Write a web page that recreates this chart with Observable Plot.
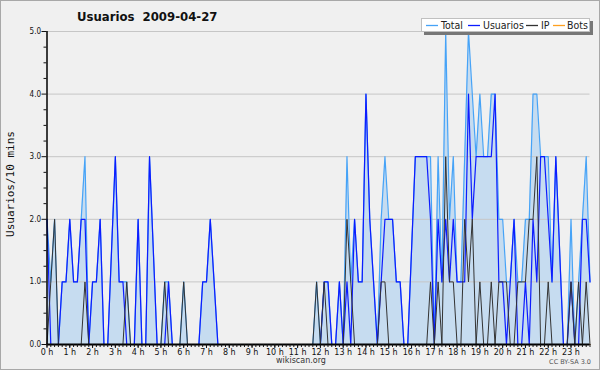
<!DOCTYPE html>
<html>
<head>
<meta charset="utf-8">
<script src="https://cdn.jsdelivr.net/npm/d3@7"></script>
<script src="https://cdn.jsdelivr.net/npm/@observablehq/plot@0.6"></script>
<style>
html,body{margin:0;padding:0;background:#f0f0f0;}
#wrap{position:relative;width:600px;height:370px;overflow:hidden;background:#f0f0f0;}
#wrap svg{position:absolute;left:0;top:0;display:block;}
#overlay{pointer-events:none;}
</style>
</head>
<body>
<div id="wrap"></div>
<script>
// 10-minute slots, 0 = 00:00 ... 143 = 23:50
const usuarios = [
  2,0,0,0,1,1,2,1,1,2,
  2,0,1,1,2,0,0,1.5,3,1,
  1,0,0,0,2,0,0,3,1.5,0,
  0,0,1,0,0,0,0,0,0,0,
  0,1,1,2,1,0,0,0,0,0,
  0,0,0,0,0,0,0,0,0,0,
  0,0,0,0,0,0,0,0,0,0,
  0,0,0,1,1,0,0,1,0,1,
  0,2,1,1,4,2,1,0,1,2,
  2,2,1,1,0,0,1.5,3,3,3,
  3,2,0,2,1,2,1,2,1,1,
  1,4,2,3,3,3,3,3,4,1,
  1,0,1,2,0,0,1,0,2,1,
  3,3,2,1,3,1.5,0,0,1,0,
  0,2,2,1
];
const ip = [
  0,1,2,0,0,0,0,0,0,0,
  1,0,0,0,0,0,0,0,0,0,
  0,1,0,0,0,0,0,0,0,0,
  0,1,0,0,0,0,1,0,0,0,
  0,0,0,0,0,0,0,0,0,0,
  0,0,0,0,0,0,0,0,0,0,
  0,0,0,0,0,0,0,0,0,0,
  0,1,0,1,0,0,0,0,0,2,
  1,0,0,0,0,0,0,0,1,1,
  0,0,0,0,0,0,0,0,0,0,
  0,1,0,1,0,3,1,1,0,0,
  2,1,2,0,1,0,0,1,0,1,
  1,1,0,0,1,1,1,2,2,3,
  0,0,1,0,0,0,0,0,1,0,
  1,0,1,0
];
const total = [
  2,1,2,0,1,1,2,1,1,2,
  3,0,1,1,2,0,0,1.5,3,1,
  1,1,0,0,2,0,0,3,1.5,0,
  0,1,1,0,0,0,1,0,0,0,
  0,1,1,2,1,0,0,0,0,0,
  0,0,0,0,0,0,0,0,0,0,
  0,0,0,0,0,0,0,0,0,0,
  0,1,0,1,1,0,0,1,0,3,
  1,2,1,1,4,2,1,0,2,3,
  2,2,1,1,0,0,1.5,3,3,3,
  3,3,0,3,1,5,2,3,1,1,
  3,5,4,3,4,3,3,4,4,2,
  2,1,1,2,1,1,2,2,4,4,
  3,3,3,1,3,1.5,0,0,2,0,
  1,2,3,1
];
const bots = [
  0,0,0,0,0,0,0,0,0,0, 0,0,0,0,0,0,0,0,0,0,
  0,0,0,0,0,0,0,0,0,0, 0,0,0,0,0,0,0,0,0,0,
  0,0,0,0,0,0,0,0,0,0, 0,0,0,0,0,0,0,0,0,0,
  0,0,0,0,0,0,0,0,0,0, 0,0,0,0,0,0,0,0,0,0,
  0,0,0,0,0,0,0,0,0,0, 0,0,0,0,0,0,0,0,0,0,
  0,0,0,0,0,0,0,0,0,0, 0,0,0,0,0,0,0,0,0,0,
  0,0,0,0,0,0,0,0,0,0, 0,0,0,0,0,0,0,0,0,0,
  0,0,0,0
];
const hourLabels = ["0 h","1 h","2 h","3 h","4 h","5 h","6 h","7 h","8 h","9 h","10 h","11 h",
  "12 h","13 h","14 h","15 h","16 h","17 h","18 h","19 h","20 h","21 h","22 h","23 h"];
const yMajor = [0,1,2,3,4,5];
const seriesNames = ["Total","Usuarios","IP","Bots"];
const seriesColors = ["#46a3f7","#0c1cff","#333333","#ffa020"];
const titleText = "Usuarios  2009-04-27";
const yLabel = "Usuarios/10 mins";

const rows = usuarios.map((u, i) => ({i, usuarios: u, ip: ip[i], total: total[i], bots: bots[i]}));
const hourTicks = hourLabels.map((_, h) => h * 6);
const minorX = rows.map(d => d.i);
const minorY = d3.range(0, 5.001, 0.25).filter(v => !yMajor.includes(v));

const chart = Plot.plot({
  width: 600, height: 370,
  marginLeft: 46.5, marginRight: 10.5, marginTop: 31, marginBottom: 26,
  style: {background: "transparent", fontFamily: "DejaVu Sans", fontSize: "8px", color: "#111"},
  x: {domain: [0, 143], axis: null},
  y: {domain: [0, 5], axis: null},
  marks: [
    Plot.areaY(rows, {x: "i", y: "total", fill: "#c6dcf0"}),
    Plot.gridY(yMajor.filter(v => v > 0), {stroke: "#c6c6c6", strokeOpacity: 1}),
    Plot.lineY(rows, {x: "i", y: "bots", stroke: seriesColors[3], strokeWidth: 1.2}),
    Plot.lineY(rows, {x: "i", y: "total", stroke: seriesColors[0], strokeWidth: 1.2}),
    Plot.lineY(rows, {x: "i", y: "usuarios", stroke: seriesColors[1], strokeWidth: 1.2}),
    Plot.lineY(rows, {x: "i", y: "ip", stroke: seriesColors[2], strokeWidth: 1}),
    Plot.ruleX([0], {stroke: "#000", strokeWidth: 1.5}),
    Plot.ruleY([0], {stroke: "#000", strokeWidth: 2}),
    Plot.axisY(minorY, {tickSize: 3, tickFormat: () => "", label: null}),
    Plot.axisY(yMajor, {tickSize: 5, tickPadding: 1, tickFormat: d => d.toFixed(1), label: null,
      fontSize: 8, fontFamily: "DejaVu Sans Condensed"}),
    Plot.axisX(minorX, {tickSize: 3, tickFormat: () => "", label: null}),
    Plot.axisX(hourTicks, {tickSize: 4, tickPadding: 1, tickFormat: d => hourLabels[d / 6], label: null, fontSize: 8})
  ]
});
const wrap = document.getElementById("wrap");
wrap.appendChild(chart);

// overlay: border, title, legend, labels
const ns = "http://www.w3.org/2000/svg";
const ov = document.createElementNS(ns, "svg");
ov.setAttribute("id", "overlay");
ov.setAttribute("width", 600); ov.setAttribute("height", 370);
function el(tag, attrs, text) {
  const e = document.createElementNS(ns, tag);
  for (const k in attrs) e.setAttribute(k, attrs[k]);
  if (text != null) e.textContent = text;
  ov.appendChild(e);
  return e;
}
el("rect", {x: 0.5, y: 0.5, width: 599, height: 369, fill: "none", stroke: "#a8a8a8"});
el("text", {x: 77, y: 21, "font-family": "DejaVu Sans Condensed", "font-weight": "bold", "font-size": 13,
  fill: "#111", style: "white-space:pre"}, titleText);
// legend
el("rect", {x: 424, y: 21, width: 169, height: 14, fill: "#777"});
el("rect", {x: 421.5, y: 18.5, width: 168, height: 13, fill: "#fff", stroke: "#c0c0c0"});
const legX = [426, 468, 526, 553];
const legTX = [441, 483, 541, 567];
seriesNames.forEach((n, k) => {
  el("line", {x1: legX[k], x2: legX[k] + 12, y1: 25.5, y2: 25.5, stroke: seriesColors[k], "stroke-width": 1.3});
  el("text", {x: legTX[k], y: 29, "font-family": "DejaVu Sans Condensed", "font-size": 10.5, fill: "#222"}, n);
});
el("text", {x: 14, y: 184, transform: "rotate(-90 14 184)", "text-anchor": "middle",
  "font-family": "DejaVu Sans Mono", "font-size": 11, fill: "#111"}, yLabel);
el("text", {x: 301, y: 363, "text-anchor": "middle", "font-family": "DejaVu Sans", "font-size": 8, fill: "#333"}, "wikiscan.org");
el("text", {x: 591, y: 364, "text-anchor": "end", "font-family": "DejaVu Sans", "font-size": 6.5, fill: "#555"}, "CC BY-SA 3.0");
wrap.appendChild(ov);
</script>
</body>
</html>
